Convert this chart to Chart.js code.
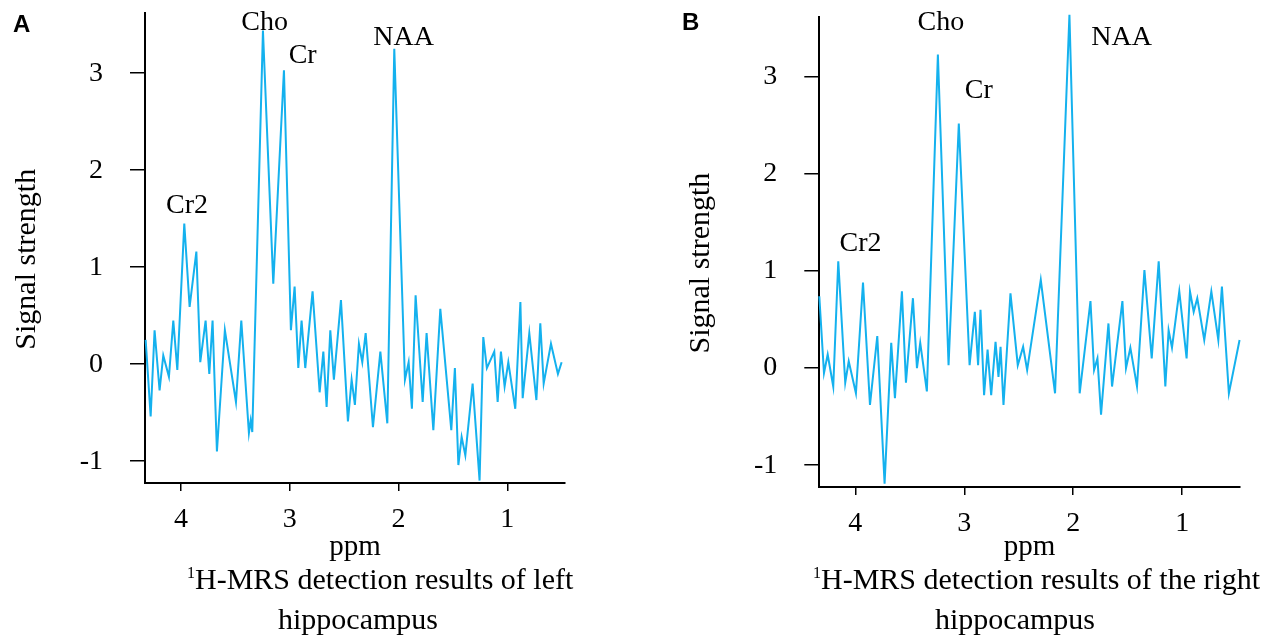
<!DOCTYPE html>
<html>
<head>
<meta charset="utf-8">
<script src="https://cdn.jsdelivr.net/npm/chart.js@4.4.1/dist/chart.umd.min.js"></script>
<style>
  html, body { margin: 0; padding: 0; background: #fff; }
  body { width: 1269px; height: 643px; position: relative; overflow: hidden; }
  canvas { position: absolute; top: 0; }
  .letter { position: absolute; font-family: "Liberation Sans", Arial, sans-serif; font-weight: bold; font-size: 24px; line-height: 24px; color: #000; }
  .cap { position: absolute; font-family: "Liberation Serif", "Times New Roman", serif; font-size: 30px; line-height: 30px; color: #000; white-space: nowrap; }
  .cap .sup { font-size: 16px; position: relative; top: -11px; }
</style>
</head>
<body>
<canvas id="cA" width="634" height="643" style="left:0px"></canvas>
<canvas id="cB" width="635" height="643" style="left:634px"></canvas>
<div class="letter" style="left:13px; top:12px;">A</div>
<div class="letter" style="left:682px; top:10px;">B</div>
<div class="cap" style="left:187px; top:564px;"><span class="sup">1</span>H-MRS detection results of left</div>
<div class="cap" style="left:278px; top:604px;">hippocampus</div>
<div class="cap" style="left:813px; top:564px;"><span class="sup">1</span>H-MRS detection results of the right</div>
<div class="cap" style="left:935px; top:604px;">hippocampus</div>
<script>
// ---- data ----
const xTicks = [4, 3, 2, 1];
const yTicks = [3, 2, 1, 0, -1];

const ppmA = [4.324,4.278,4.242,4.196,4.162,4.110,4.070,4.033,3.969,3.920,3.858,3.822,3.773,3.739,3.709,3.669,3.596,3.494,3.445,3.375,3.359,3.344,3.246,3.151,3.053,2.989,2.955,2.921,2.891,2.857,2.790,2.725,2.691,2.661,2.627,2.594,2.529,2.465,2.431,2.401,2.364,2.333,2.302,2.235,2.167,2.103,2.039,1.941,1.907,1.877,1.843,1.778,1.742,1.680,1.616,1.515,1.482,1.450,1.420,1.386,1.319,1.255,1.221,1.188,1.120,1.089,1.059,1.025,0.991,0.927,0.880,0.859,0.798,0.733,0.697,0.666,0.599,0.535,0.501];
const sigA = [0.25,-0.54,0.35,-0.27,0.09,-0.13,0.45,-0.06,1.45,0.59,1.16,0.02,0.45,-0.10,0.45,-0.90,0.35,-0.39,0.45,-0.71,-0.58,-0.70,3.44,0.83,3.03,0.35,0.80,-0.04,0.45,-0.04,0.75,-0.29,0.13,-0.44,0.35,-0.16,0.66,-0.59,-0.16,-0.42,0.21,0.02,0.32,-0.65,0.13,-0.61,3.25,-0.16,0.02,-0.46,0.71,-0.39,0.32,-0.68,0.57,-0.68,-0.04,-1.04,-0.75,-0.94,-0.20,-1.20,0.28,-0.04,0.13,-0.39,0.13,-0.23,0.02,-0.46,0.64,-0.35,0.32,-0.37,0.42,-0.20,0.21,-0.10,0.02];

const ppmB = [4.330,4.287,4.253,4.202,4.156,4.092,4.060,3.994,3.929,3.865,3.798,3.731,3.670,3.636,3.572,3.535,3.471,3.434,3.404,3.343,3.242,3.144,3.050,2.951,2.903,2.873,2.851,2.818,2.786,2.753,2.713,2.686,2.667,2.640,2.576,2.509,2.460,2.423,2.298,2.167,2.035,1.941,1.842,1.809,1.778,1.745,1.677,1.644,1.549,1.516,1.476,1.415,1.347,1.280,1.216,1.155,1.125,1.094,1.027,0.960,0.929,0.895,0.862,0.798,0.733,0.669,0.636,0.572,0.474];
const sigB = [0.74,-0.05,0.14,-0.19,1.10,-0.15,0.07,-0.26,0.88,-0.38,0.33,-1.19,0.26,-0.31,0.79,-0.15,0.72,0.00,0.26,-0.24,3.23,0.03,2.52,0.03,0.58,0.03,0.60,-0.28,0.19,-0.28,0.27,-0.09,0.22,-0.38,0.77,0.03,0.22,-0.02,0.91,-0.26,3.64,-0.26,0.69,-0.02,0.10,-0.48,0.46,-0.19,0.69,0.00,0.21,-0.19,1.01,0.10,1.10,-0.19,0.39,0.21,0.79,0.10,0.79,0.58,0.72,0.29,0.79,0.29,0.84,-0.26,0.29];

// peak labels: name, anchor ppm, anchor value (text baseline)
const peakNames = ['Cr2', 'Cho', 'Cr', 'NAA'];
const peakPpmA = [3.943, 3.231, 2.881, 1.953];
const peakValA = [1.560, 3.443, 3.106, 3.289];
const peakPpmB = [3.951, 3.214, 2.866, 1.556];
const peakValB = [1.202, 3.488, 2.784, 3.333];

// ---- rendering ----
const SERIF = '"Liberation Serif", "Times New Roman", serif';
const LINE = '#14b1ee';

const peakLabelPlugin = {
  id: 'peakLabels',
  afterDatasetsDraw(chart, args, opts) {
    const { ctx, scales } = chart;
    ctx.save();
    ctx.font = '28px ' + SERIF;
    ctx.fillStyle = '#000';
    ctx.textAlign = 'center';
    ctx.textBaseline = 'alphabetic';
    opts.names.forEach((n, i) => {
      ctx.fillText(n, scales.x.getPixelForValue(opts.ppm[i]), scales.y.getPixelForValue(opts.val[i]));
    });
    ctx.restore();
  }
};

function makeChart(id, ppm, sig, pad, xH, pPpm, pVal) {
  const font = { family: SERIF, size: 28 };
  return new Chart(document.getElementById(id), {
    type: 'line',
    data: {
      datasets: [{
        data: ppm.map((x, i) => ({ x: x, y: sig[i] })),
        borderColor: LINE,
        borderWidth: 2,
        pointRadius: 0,
        tension: 0,
        fill: false,
        clip: false
      }]
    },
    options: {
      responsive: false,
      animation: false,
      events: [],
      layout: { padding: pad },
      plugins: {
        legend: { display: false },
        tooltip: { enabled: false },
        peakLabels: { names: peakNames, ppm: pPpm, val: pVal }
      },
      scales: {
        x: {
          type: 'linear',
          reverse: true,
          min: 0.47,
          max: 4.33,
          afterBuildTicks: s => { s.ticks = xTicks.map(v => ({ value: v })); },
          afterFit: s => { s.height = xH; s.paddingLeft = 0; s.paddingRight = 0; s.paddingTop = 0; s.paddingBottom = 0; },
          ticks: { font: font, color: '#000', padding: 12, maxRotation: 0 },
          grid: { drawOnChartArea: false, drawTicks: true, tickLength: 8, color: '#000', lineWidth: 1.5 },
          border: { display: true, color: '#000', width: 2 },
          title: { display: true, text: 'ppm', font: { family: SERIF, size: 29 }, color: '#000', padding: { top: 0, bottom: 78 } }
        },
        y: {
          type: 'linear',
          min: -1.225,
          max: 3.62,
          afterBuildTicks: s => { s.ticks = yTicks.map(v => ({ value: v })); },
          afterFit: s => { s.width = 145; s.paddingLeft = 0; s.paddingRight = 0; s.paddingTop = 0; s.paddingBottom = 0; },
          ticks: { font: font, color: '#000', padding: 27 },
          grid: { drawOnChartArea: false, drawTicks: true, tickLength: 15, color: '#000', lineWidth: 1.5 },
          border: { display: true, color: '#000', width: 2 },
          title: { display: true, text: 'Signal strength   ', font: { family: SERIF, size: 30 }, color: '#000', padding: { top: 9, bottom: 0 } }
        }
      }
    },
    plugins: [peakLabelPlugin]
  });
}

makeChart('cA', ppmA, sigA, { left: 0, top: 13, right: 69, bottom: 0 }, 160, peakPpmA, peakValA);
makeChart('cB', ppmB, sigB, { left: 40.3, top: 16.7, right: 29, bottom: 0 }, 156, peakPpmB, peakValB);
</script>
</body>
</html>
